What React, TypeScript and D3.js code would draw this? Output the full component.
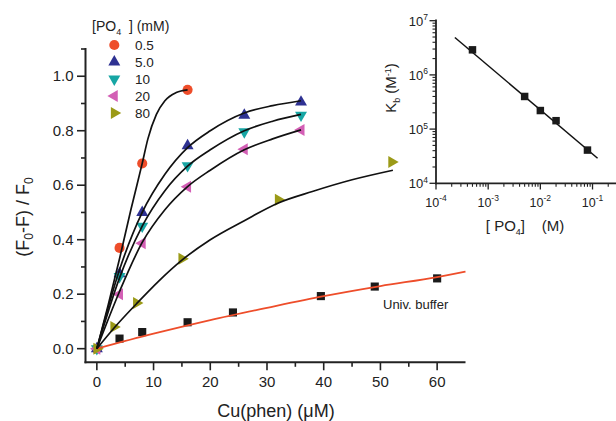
import React from 'react';
import * as d3 from 'd3';

// ---- main plot data: Cu(phen) (µM) vs (F0-F)/F0 ----
const po05X = [0, 4, 8, 16];
const po05Y = [0, 0.37, 0.68, 0.95];
const po5X = [0, 4, 8, 16, 26, 36];
const po5Y = [0, 0.275, 0.5, 0.745, 0.857, 0.905];
const po10X = [0, 4, 8, 16, 26, 36];
const po10Y = [0, 0.265, 0.45, 0.672, 0.796, 0.857];
const po20X = [0, 4, 8, 16, 26, 36];
const po20Y = [0, 0.2, 0.387, 0.594, 0.732, 0.803];
const po80X = [0, 3, 7, 15, 32, 52];
const po80Y = [0, 0.08, 0.168, 0.33, 0.547, 0.685];
const univX = [4, 8, 16, 24, 39.5, 49, 60];
const univY = [0.037, 0.061, 0.097, 0.133, 0.193, 0.228, 0.258];

// fitted curves
const fit05X = [0, 2, 4, 6, 8, 9, 10.5, 12, 14, 16];
const fit05Y = [0, 0.16, 0.33, 0.51, 0.68, 0.77, 0.86, 0.91, 0.94, 0.95];
const fit5X = [0, 4, 8, 12, 16, 20, 26, 31, 36];
const fit5Y = [0, 0.29, 0.5, 0.64, 0.738, 0.8, 0.865, 0.892, 0.91];
const fit10X = [0, 4, 8, 12, 16, 20, 26, 31, 36];
const fit10Y = [0, 0.26, 0.45, 0.58, 0.67, 0.73, 0.8, 0.835, 0.86];
const fit20X = [0, 4, 8, 12, 16, 20, 26, 31, 36];
const fit20Y = [0, 0.21, 0.39, 0.51, 0.595, 0.655, 0.73, 0.77, 0.803];
const fit80X = [0, 3, 7, 11, 15, 20, 26, 32, 38, 45, 52.2];
const fit80Y = [0, 0.075, 0.165, 0.25, 0.325, 0.4, 0.47, 0.535, 0.577, 0.62, 0.655];
const fitUnivX = [0, 10, 20, 30, 40, 50, 60, 65];
const fitUnivY = [0, 0.055, 0.105, 0.15, 0.193, 0.23, 0.263, 0.283];

const xTicks = [0, 10, 20, 30, 40, 50, 60];
const xMinor = [5, 15, 25, 35, 45, 55];
const yTicks = [0, 0.2, 0.4, 0.6, 0.8, 1.0];
const yMinor = [0.1, 0.3, 0.5, 0.7, 0.9, 1.1];

const legendLabels = ['0.5', '5.0', '10', '20', '80'];

// ---- inset data: [PO4] (M) vs Kb (M^-1) ----
const insetX = [5e-4, 5e-3, 1e-2, 2e-2, 8e-2];
const insetY = [2.9e6, 4.0e5, 2.2e5, 1.43e5, 4.1e4];
const insetFitX = [2.3e-4, 0.125];
const insetFitY = [4.9e6, 2.9e4];
const insetXTickExp = [-4, -3, -2, -1];
const insetYTickExp = [4, 5, 6, 7];

const RED = '#ee4d2a';
const BLUE = '#2e3192';
const CYAN = '#17a6a4';
const MAGENTA = '#d35fb5';
const OLIVE = '#9b9a17';
const FONT = "Arial, 'Liberation Sans', Helvetica, sans-serif";

export default function App() {
  const x = d3.scaleLinear().domain([-2, 65]).range([85.5, 465.5]);
  const y = d3.scaleLinear().domain([-0.05, 1.1]).range([362.3, 49]);
  const xi = d3.scaleLog().domain([1e-4, Math.pow(10, -0.55)]).range([436, 616]);
  const yi = d3.scaleLog().domain([1e4, 1e7]).range([183.3, 20.7]);

  const line = (xs: number[], ys: number[]) =>
    d3.line<number>().x((_, i) => x(xs[i])).y((_, i) => y(ys[i])).curve(d3.curveMonotoneX)(xs.map((_, i) => i)) || '';

  const circle = d3.symbol().type(d3.symbolCircle).size(80)() || '';
  const tri = d3.symbol().type(d3.symbolTriangle).size(62)() || '';
  const square = d3.symbol().type(d3.symbolSquare).size(66)() || '';
  const sqSmall = d3.symbol().type(d3.symbolSquare).size(56)() || '';

  const series = [
    { xs: po05X, ys: po05Y, path: circle, rot: 0, color: RED },
    { xs: po5X, ys: po5Y, path: tri, rot: 0, color: BLUE },
    { xs: po10X, ys: po10Y, path: tri, rot: 180, color: CYAN },
    { xs: po20X, ys: po20Y, path: tri, rot: -90, color: MAGENTA },
    { xs: po80X, ys: po80Y, path: tri, rot: 90, color: OLIVE },
  ];
  const fits = [
    [fit05X, fit05Y],
    [fit5X, fit5Y],
    [fit10X, fit10Y],
    [fit20X, fit20Y],
    [fit80X, fit80Y],
  ];

  const x0 = 85.5;
  const yAxis = 362.3;

  // inset minor ticks
  const insetXMinor: number[] = [];
  for (let e = -4; e <= -1; e++) for (let m = 2; m <= 9; m++) {
    const v = m * Math.pow(10, e);
    if (v <= Math.pow(10, -0.55)) insetXMinor.push(v);
  }
  const insetYMinor: number[] = [];
  for (let e = 4; e <= 6; e++) for (let m = 2; m <= 9; m++) insetYMinor.push(m * Math.pow(10, e));

  const insetLine = d3.line<number>().x((_, i) => xi(insetFitX[i])).y((_, i) => yi(insetFitY[i]))([0, 1]) || '';

  return (
    <svg width={616} height={421} style={{ position: 'absolute', left: 0, top: 0, background: '#fff' }} fontFamily={FONT}>
      {/* main axes */}
      <line x1={x0} x2={x0} y1={48} y2={yAxis + 1} stroke="#222" strokeWidth={2} />
      <line x1={x0 - 1} x2={465.5} y1={yAxis} y2={yAxis} stroke="#222" strokeWidth={2} />
      {xTicks.map((t) => (
        <g key={'xt' + t}>
          <line x1={x(t)} x2={x(t)} y1={yAxis} y2={yAxis + 8} stroke="#222" strokeWidth={1.6} />
          <text x={x(t)} y={386.5} textAnchor="middle" fontSize={15} fill="#222">{t}</text>
        </g>
      ))}
      {xMinor.map((t) => (
        <line key={'xm' + t} x1={x(t)} x2={x(t)} y1={yAxis} y2={yAxis + 4.5} stroke="#222" strokeWidth={1.6} />
      ))}
      {yTicks.map((t) => (
        <g key={'yt' + t}>
          <line x1={x0 - 8.5} x2={x0} y1={y(t)} y2={y(t)} stroke="#222" strokeWidth={1.6} />
          <text x={73.5} y={y(t) + 5.2} textAnchor="end" fontSize={15} fill="#222">{t.toFixed(1)}</text>
        </g>
      ))}
      {yMinor.map((t) => (
        <line key={'ym' + t} x1={x0 - 4.5} x2={x0} y1={y(t)} y2={y(t)} stroke="#222" strokeWidth={1.6} />
      ))}

      {/* axis titles */}
      <text x={276} y={417} textAnchor="middle" fontSize={18} fill="#222">Cu(phen) (μM)</text>
      <text transform="translate(29,217) rotate(-90)" textAnchor="middle" fontSize={18} fill="#222">
        (F<tspan dy={4} fontSize={12}>0</tspan><tspan dy={-4}>-F) / F</tspan><tspan dy={4} fontSize={12}>0</tspan>
      </text>

      {/* markers */}
      {univX.map((v, i) => (
        <path key={'u' + i} d={square} transform={`translate(${x(v)},${y(univY[i])})`} fill="#1a1a1a" />
      ))}
      {series.map((s, si) =>
        s.xs.map((v, i) => (
          <path key={si + '-' + i} d={s.path} transform={`translate(${x(v)},${y(s.ys[i])}) rotate(${s.rot})`} fill={s.color} />
        ))
      )}

      {/* fitted lines */}
      <path d={line(fitUnivX, fitUnivY)} fill="none" stroke={RED} strokeWidth={1.8} />
      {fits.map((f, i) => (
        <path key={'f' + i} d={line(f[0], f[1])} fill="none" stroke="#111" strokeWidth={1.7} />
      ))}

      <text x={383} y={309} fontSize={13} fill="#222">Univ. buffer</text>

      {/* legend */}
      <text x={92} y={31} fontSize={14} fill="#222" style={{ whiteSpace: 'pre' }}>
        [PO<tspan dy={4} fontSize={9}>4</tspan><tspan dy={-4}>  ] (mM)</tspan>
      </text>
      {series.map((s, i) => (
        <g key={'lg' + i}>
          <path d={s.path} transform={`translate(114.3,${45 + i * 17}) rotate(${s.rot})`} fill={s.color} />
          <text x={135} y={45 + i * 17 + 4.8} fontSize={13.5} fill="#222">{legendLabels[i]}</text>
        </g>
      ))}

      {/* inset axes */}
      <line x1={436} x2={436} y1={19.5} y2={184.3} stroke="#222" strokeWidth={1.8} />
      <line x1={435} x2={616} y1={183.3} y2={183.3} stroke="#222" strokeWidth={1.8} />
      {insetXTickExp.map((e) => (
        <g key={'ixt' + e}>
          <line x1={xi(Math.pow(10, e))} x2={xi(Math.pow(10, e))} y1={183.3} y2={189.5} stroke="#222" strokeWidth={1.3} />
          <text x={xi(Math.pow(10, e))} y={206.5} textAnchor="middle" fontSize={12.5} fill="#222">
            10<tspan dy={-5.5} fontSize={8.5}>{e}</tspan>
          </text>
        </g>
      ))}
      {insetXMinor.map((v, i) => (
        <line key={'ixm' + i} x1={xi(v)} x2={xi(v)} y1={183.3} y2={186.8} stroke="#222" strokeWidth={1.1} />
      ))}
      {insetYTickExp.map((e) => (
        <g key={'iyt' + e}>
          <line x1={429.5} x2={436} y1={yi(Math.pow(10, e))} y2={yi(Math.pow(10, e))} stroke="#222" strokeWidth={1.3} />
          <text x={428} y={yi(Math.pow(10, e)) + 5} textAnchor="end" fontSize={13} fill="#222">
            10<tspan dy={-5.5} fontSize={8.5}>{e}</tspan>
          </text>
        </g>
      ))}
      {insetYMinor.map((v, i) => (
        <line key={'iym' + i} x1={432.5} x2={436} y1={yi(v)} y2={yi(v)} stroke="#222" strokeWidth={1.1} />
      ))}
      <path d={insetLine} fill="none" stroke="#111" strokeWidth={1.5} />
      {insetX.map((v, i) => (
        <path key={'is' + i} d={sqSmall} transform={`translate(${xi(v)},${yi(insetY[i])})`} fill="#1a1a1a" />
      ))}
      <text x={525} y={231} textAnchor="middle" fontSize={15} fill="#222" style={{ whiteSpace: 'pre' }}>
        [ PO<tspan dy={4} fontSize={9}>4</tspan><tspan dy={-4}>]    (M)</tspan>
      </text>
      <text transform="translate(396,88) rotate(-90)" textAnchor="middle" fontSize={15} fill="#222">
        K<tspan dy={4} fontSize={9}>b</tspan><tspan dy={-4}> (M</tspan><tspan dy={-5.5} fontSize={9}>-1</tspan><tspan dy={5.5}>)</tspan>
      </text>
    </svg>
  );
}
